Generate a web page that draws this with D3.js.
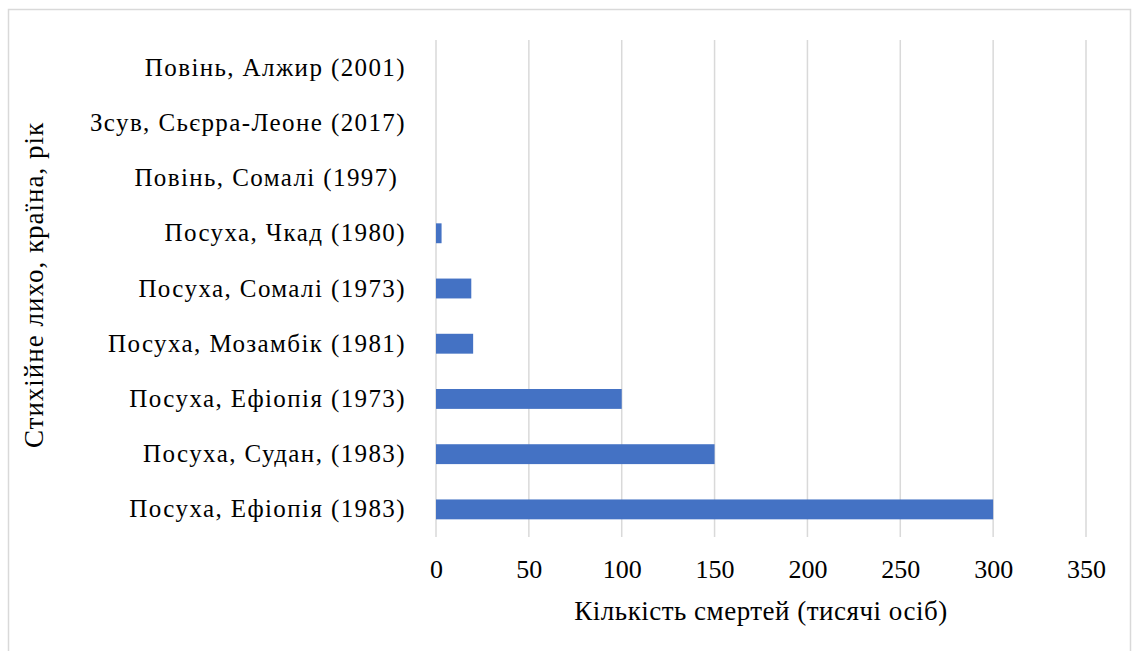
<!DOCTYPE html>
<html>
<head>
<meta charset="utf-8">
<script src="https://cdn.jsdelivr.net/npm/d3@7"></script>
<style>
  body { margin: 0; background: #fff; }
  svg text { font-family: "Liberation Serif", "Times New Roman", "DejaVu Serif", serif; fill: #000; white-space: pre; }
</style>
</head>
<body>
<div id="chart"></div>
<script>
// categories from bottom to top, as in the picture
var categories = [
  "Посуха, Ефіопія (1983)",
  "Посуха, Судан, (1983)",
  "Посуха, Ефіопія (1973)",
  "Посуха, Мозамбік (1981)",
  "Посуха, Сомалі (1973)",
  "Посуха, Чкад (1980)",
  "Повінь, Сомалі (1997) ",
  "Зсув, Сьєрра-Леоне (2017)",
  "Повінь, Алжир (2001)"
];
var deaths = [300, 150, 100, 20, 19, 3, 0, 0, 0];
var xTicks = [0, 50, 100, 150, 200, 250, 300, 350];
var xTitle = "Кількість смертей (тисячі осіб)";
var yTitle = "Стихійне лихо, країна, рік";

var W = 1132, H = 651;
var margin = {top: 40, right: 46, bottom: 114, left: 436},
    width = W - margin.left - margin.right,
    height = H - margin.top - margin.bottom;

var svg = d3.select("#chart").append("svg")
  .attr("width", W)
  .attr("height", H);

// chart frame
svg.append("rect")
  .attr("x", 8.5).attr("y", 9.5)
  .attr("width", 1122).attr("height", 660)
  .attr("fill", "none")
  .attr("stroke", "#d9d9d9")
  .attr("stroke-width", 1.5);

var g = svg.append("g")
  .attr("transform", "translate(" + margin.left + "," + margin.top + ")");

var x = d3.scaleLinear().domain([0, 350]).range([0, width]);
var y = d3.scaleBand()
  .domain(categories.slice().reverse())
  .range([0, height])
  .paddingInner(0.64)
  .paddingOuter(0.32);

// gridlines
g.selectAll(".grid")
  .data(xTicks)
  .enter().append("line")
  .attr("class", "grid")
  .attr("x1", function(d) { return x(d); })
  .attr("x2", function(d) { return x(d); })
  .attr("y1", 0)
  .attr("y2", height)
  .attr("stroke", "#d9d9d9")
  .attr("stroke-width", 1.5);

// bars
g.selectAll(".bar")
  .data(categories)
  .enter().append("rect")
  .attr("class", "bar")
  .attr("x", x(0))
  .attr("y", function(d) { return y(d); })
  .attr("width", function(d, i) { return x(deaths[i]) - x(0); })
  .attr("height", y.bandwidth())
  .attr("fill", "#4472c4");

// x axis labels
var xAxis = d3.axisBottom(x).tickValues(xTicks).tickSize(0).tickPadding(23);
g.append("g")
  .attr("transform", "translate(0," + height + ")")
  .call(xAxis)
  .call(function(s) { s.select(".domain").remove(); })
  .selectAll("text")
  .style("font-size", "26px");

// y axis labels
var yAxis = d3.axisLeft(y).tickSize(0).tickPadding(30);
g.append("g")
  .call(yAxis)
  .call(function(s) { s.select(".domain").remove(); })
  .selectAll("text")
  .style("font-size", "25px")
  .style("letter-spacing", "1.4px");

// axis titles
svg.append("text")
  .attr("x", margin.left + x(175))
  .attr("y", 620)
  .attr("text-anchor", "middle")
  .style("font-size", "27px")
  .style("letter-spacing", "0.5px")
  .text(xTitle);

svg.append("text")
  .attr("transform", "translate(43," + 285 + ") rotate(-90)")
  .attr("text-anchor", "middle")
  .style("font-size", "27px")
  .style("letter-spacing", "1px")
  .text(yTitle);
</script>
</body>
</html>
